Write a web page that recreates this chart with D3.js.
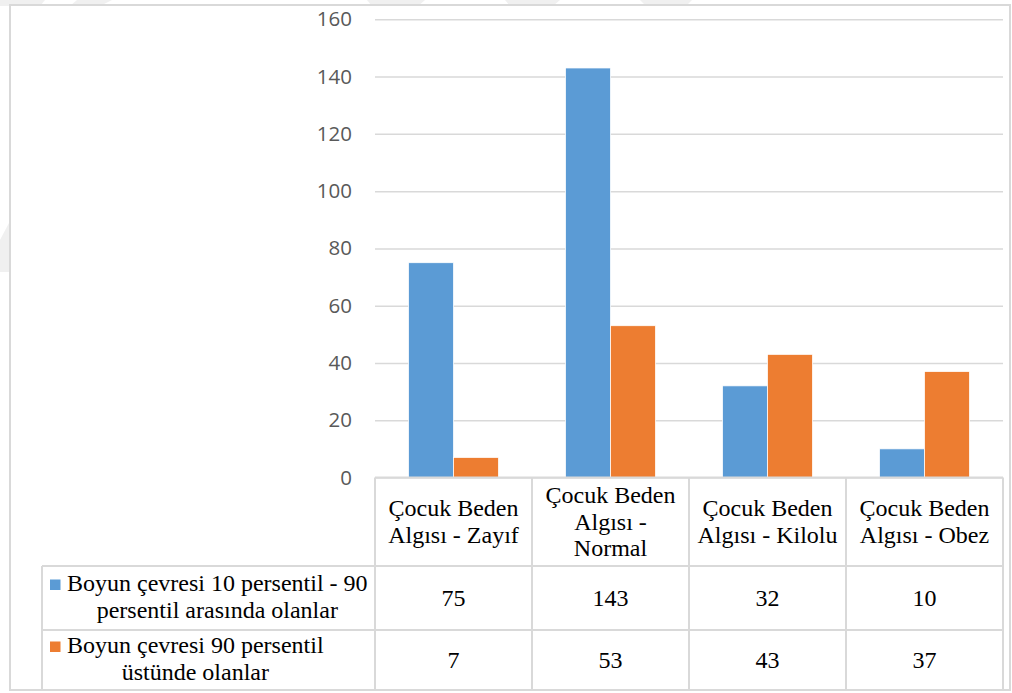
<!DOCTYPE html>
<html>
<head>
<meta charset="utf-8">
<script src="https://cdn.jsdelivr.net/npm/d3@7"></script>
<style>
  html, body { margin: 0; padding: 0; background: #ffffff; }
  svg { display: block; }
  .serif { font-family: "Liberation Serif", "Tinos", "Times New Roman", serif; }
</style>
</head>
<body>
<svg id="chart" width="1012" height="693"></svg>
<script>
// Categories (child body perception) and their wrapped header lines
const categories = ["Zayıf", "Normal", "Kilolu", "Obez"];
const categoryLines = [
  ["Çocuk Beden", "Algısı - Zayıf"],
  ["Çocuk Beden", "Algısı -", "Normal"],
  ["Çocuk Beden", "Algısı - Kilolu"],
  ["Çocuk Beden", "Algısı - Obez"]
];

// Series names, wrapped as shown in the data table
const seriesKeys = ["between", "above"];
const seriesLines = [
  ["Boyun çevresi 10 persentil - 90", "persentil arasında olanlar"],
  ["Boyun çevresi 90 persentil", "üstünde olanlar"]
];
const seriesColors = ["#5B9BD5", "#ED7D31"];

// Values per category
const betweenValues = [75, 143, 32, 10];
const aboveValues = [7, 53, 43, 37];

// Y axis ticks
const yTicks = [0, 20, 40, 60, 80, 100, 120, 140, 160];

const seriesValues = [betweenValues, aboveValues];

const svg = d3.select("#chart");

// Layout
const plotLeft = 375, plotRight = 1003;
const plotTop = 19.3, plotBottom = 477.5;
const headerBottom = 566, row1Bottom = 630, tableBottom = 690;
const legendLeft = 42;
const gridColor = "#D9D9D9";

// Faint background watermark fragments
const wm = svg.append("g").attr("fill", "#f0f0f0");
[
  [[0, 0], [45, 0], [40, 6], [0, 6]],
  [[77, 0], [112, 0], [100, 6], [70, 6]],
  [[367, 0], [425, 0], [418, 6], [372, 6]],
  [[505, 0], [560, 0], [553, 6], [510, 6]],
  [[640, 0], [692, 0], [686, 6], [646, 6]],
  [[0, 240], [9, 223], [9, 272], [0, 272]]
].forEach(p => wm.append("polygon").attr("points", p.map(q => q.join(",")).join(" ")));

// Outer frame
svg.append("rect")
  .attr("x", 10).attr("y", 5)
  .attr("width", 1000).attr("height", 685)
  .attr("fill", "#ffffff")
  .attr("stroke", gridColor)
  .attr("stroke-width", 2);

// Scales
const y = d3.scaleLinear().domain([0, 160]).range([plotBottom, plotTop]);
const x0 = d3.scaleBand()
  .domain(categories)
  .range([plotLeft, plotRight])
  .paddingInner(0.427)
  .paddingOuter(0.2135);
const x1 = d3.scaleBand()
  .domain(seriesKeys)
  .range([0, x0.bandwidth()]);
const step = x0.step();
const colEdge = i => plotLeft + i * step;

// Gridlines and tick labels
const yAxis = d3.axisLeft(y)
  .tickValues(yTicks)
  .tickSize(-(plotRight - plotLeft))
  .tickPadding(23)
  .tickFormat(d3.format("d"));

const gAxis = svg.append("g")
  .attr("transform", `translate(${plotLeft},0)`)
  .call(yAxis);
gAxis.select(".domain").remove();
gAxis.selectAll(".tick line")
  .attr("stroke", gridColor)
  .attr("stroke-width", 1.5);
gAxis.selectAll(".tick text")
  .attr("fill", "#595959")
  .style("font-family", "'Open Sans', sans-serif")
  .style("font-size", "20.5px");

// Bars
const groups = svg.append("g")
  .selectAll("g")
  .data(categories)
  .join("g")
  .attr("transform", d => `translate(${x0(d)},0)`);

groups.selectAll("rect")
  .data((d, i) => seriesKeys.map((k, s) => ({ key: k, s, value: seriesValues[s][i] })))
  .join("rect")
  .attr("x", d => x1(d.key))
  .attr("width", x1.bandwidth())
  .attr("y", d => y(d.value))
  .attr("height", d => y(0) - y(d.value))
  .attr("fill", d => seriesColors[d.s])
  .attr("stroke", "#ffffff")
  .attr("stroke-width", 0.75);

// Data table grid
const table = svg.append("g")
  .attr("stroke", gridColor)
  .attr("stroke-width", 2)
  .attr("fill", "none");

table.append("line")
  .attr("x1", plotLeft).attr("x2", plotRight)
  .attr("y1", plotBottom).attr("y2", plotBottom);
[headerBottom, row1Bottom, tableBottom].forEach(yy => {
  table.append("line")
    .attr("x1", legendLeft).attr("x2", plotRight)
    .attr("y1", yy).attr("y2", yy);
});
d3.range(categories.length + 1).forEach(i => {
  table.append("line")
    .attr("x1", colEdge(i)).attr("x2", colEdge(i))
    .attr("y1", plotBottom).attr("y2", tableBottom);
});
table.append("line")
  .attr("x1", legendLeft).attr("x2", legendLeft)
  .attr("y1", headerBottom).attr("y2", tableBottom);

const fontSize = 24;
const lineH = 26.5;

// Category headers
const headerMid = 529.5;
categoryLines.forEach((lines, i) => {
  const cx = colEdge(i) + step / 2;
  const t = svg.append("text")
    .attr("class", "serif")
    .attr("text-anchor", "middle")
    .attr("fill", "#000000")
    .style("font-size", fontSize + "px");
  lines.forEach((ln, j) => {
    t.append("tspan")
      .attr("x", cx)
      .attr("y", headerMid + (j - (lines.length - 1) / 2) * lineH)
      .text(ln);
  });
});

// Value rows
const rowCenters = [(headerBottom + row1Bottom) / 2, (row1Bottom + tableBottom) / 2];
seriesValues.forEach((vals, s) => {
  vals.forEach((v, i) => {
    svg.append("text")
      .attr("class", "serif")
      .attr("x", colEdge(i) + step / 2)
      .attr("y", rowCenters[s] + 8)
      .attr("text-anchor", "middle")
      .attr("fill", "#000000")
      .style("font-size", fontSize + "px")
      .text(v);
  });
});

// Legend keys in the row headers
const textLeft = 67;
seriesLines.forEach((lines, s) => {
  const base = rowCenters[s] - 7;
  svg.append("rect")
    .attr("x", 50).attr("y", base - 11.5)
    .attr("width", 10.5).attr("height", 10.5)
    .attr("fill", seriesColors[s]);
  const t = svg.append("text")
    .attr("class", "serif")
    .attr("text-anchor", "middle")
    .attr("fill", "#000000")
    .style("font-size", fontSize + "px");
  const spans = lines.map((ln, j) =>
    t.append("tspan")
      .attr("y", base + j * lineH)
      .text(ln));
  const maxW = d3.max(spans, sp => sp.node().getComputedTextLength());
  spans.forEach(sp => sp.attr("x", textLeft + maxW / 2));
});
</script>
</body>
</html>
